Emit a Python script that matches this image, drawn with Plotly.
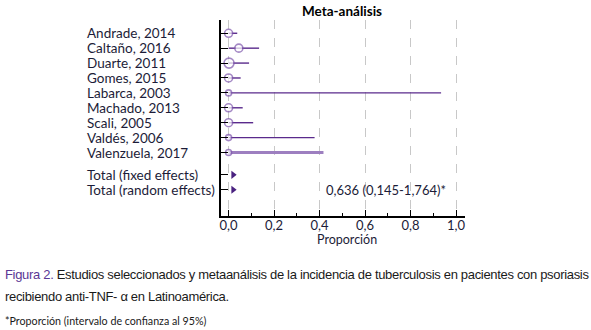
import plotly.graph_objects as go

# ---------------- data ----------------
studies = ["Andrade, 2014", "Caltaño, 2016", "Duarte, 2011", "Gomes, 2015", "Labarca, 2003",
           "Machado, 2013", "Scali, 2005", "Valdés, 2006", "Valenzuela, 2017"]
estimates = [0.0, 0.045, 0.002, 0.0, 0.0, 0.0, 0.0, 0.0, 0.0]
ci_lower = [0.0, 0.0, 0.0, 0.0, 0.0, 0.0, 0.0, 0.0, 0.0]
ci_upper = [0.038, 0.134, 0.09, 0.053, 0.934, 0.062, 0.108, 0.378, 0.417]
study_weights = [3, 3, 5, 3, 1, 3, 3, 1, 1]
pooled_labels = ["Total (fixed effects)", "Total (random effects)"]
pooled_estimates = [0.02, 0.02]
pooled_text = "0,636 (0,145-1,764)*"
x_ticks = [0.0, 0.2, 0.4, 0.6, 0.8, 1.0]

# ---------------- layout helpers ----------------
W, H = 591, 330
L, R, T, B = 221, 465, 20, 216
study_rows = list(range(len(studies)))
pooled_rows = [9.5, 10.5]

def px(xpix):
    return (xpix - L) / (R - L)

def py(ypix):
    return (B - ypix) / (B - T)

fig = go.Figure()

line_dark = "#5a2a8c"
marker_edge = "#7e57ad"

for i, (lo, hi) in enumerate(zip(ci_lower, ci_upper)):
    is_last = i == len(studies) - 1
    fig.add_trace(go.Scatter(
        x=[lo, hi], y=[study_rows[i], study_rows[i]], mode="lines",
        line=dict(color="#9d7fc0" if is_last else line_dark, width=3 if is_last else 1.4),
        hoverinfo="skip", showlegend=False))

sizes = [5 + w for w in study_weights]
fig.add_trace(go.Scatter(
    x=estimates, y=study_rows, mode="markers",
    marker=dict(symbol="circle", size=sizes, color="white",
                line=dict(color=marker_edge, width=1.6)),
    showlegend=False, hoverinfo="skip"))

fig.add_trace(go.Scatter(
    x=pooled_estimates, y=pooled_rows, mode="markers",
    marker=dict(symbol="triangle-right", size=7, color="#4a2280"),
    showlegend=False, hoverinfo="skip"))

fig.update_xaxes(
    range=[(L - 228.6) / 227.5, (R - 228.6) / 227.5],
    tickvals=x_ticks, tickformat=".1f",
    ticks="inside", ticklen=6, tickcolor="black", tickwidth=1,
    minor=dict(dtick=0.1, ticks="inside", ticklen=3, tickcolor="black", showgrid=False),
    showline=True, linecolor="black", linewidth=1.5,
    showgrid=True, gridcolor="#c8c8c8", griddash="dash", gridwidth=1,
    zeroline=False, ticklabelstandoff=-3,
    tickfont=dict(family="Lato, Open Sans", size=13, color="#1c1c38"),
)
fig.update_yaxes(
    range=[12.26, -0.89],
    tickvals=study_rows + pooled_rows, showticklabels=False,
    ticks="inside", ticklen=7, tickcolor="black", tickwidth=1.2,
    showline=True, linecolor="black", linewidth=1.5,
    showgrid=False, zeroline=False,
)

annotations = []
label_font = dict(family="Lato, Open Sans", size=13.5, color="#1c1c38")
for name, r in zip(studies + pooled_labels, study_rows + pooled_rows):
    annotations.append(dict(x=px(85), y=r, xref="paper", yref="y", text=name,
                            showarrow=False, xanchor="left", yanchor="middle", font=label_font))

annotations.append(dict(x=0.42, y=pooled_rows[1], xref="x", yref="y",
                        text=pooled_text, showarrow=False, xanchor="left", yanchor="middle",
                        font=dict(family="Lato, Open Sans", size=13, color="#1c1c38")))

annotations.append(dict(x=px(342), y=py(11), xref="paper", yref="paper", text="<b>Meta-análisis</b>",
                        showarrow=False, xanchor="center", yanchor="middle",
                        font=dict(family="Lato, Open Sans", size=13.5, color="black")))

annotations.append(dict(x=px(347), y=py(240), xref="paper", yref="paper", text="Proporción",
                        showarrow=False, xanchor="center", yanchor="middle",
                        font=dict(family="Lato, Open Sans", size=12.5, color="#1c1c38")))

cap_font = dict(family="Liberation Sans", size=13, color="#1a1a1a")
sp = "letter-spacing:-0.32px"
annotations.append(dict(x=px(3), y=py(274), xref="paper", yref="paper",
                        text=f"<span style='{sp};color:#5b3795'>Figura 2.</span><span style='{sp}'> Estudios seleccionados y metaanálisis de la incidencia de tuberculosis en pacientes con psoriasis</span>",
                        showarrow=False, xanchor="left", yanchor="middle", font=cap_font))
annotations.append(dict(x=px(3), y=py(296), xref="paper", yref="paper",
                        text=f"<span style='{sp}'>recibiendo anti-TNF- α en Latinoamérica.</span>",
                        showarrow=False, xanchor="left", yanchor="middle", font=cap_font))
annotations.append(dict(x=px(3), y=py(320), xref="paper", yref="paper",
                        text="*Proporción (intervalo de confianza al 95%)",
                        showarrow=False, xanchor="left", yanchor="middle",
                        font=dict(family="Lato, Open Sans", size=10.7, color="#1a1a1a")))

fig.update_layout(
    width=W, height=H,
    margin=dict(l=L, r=W - R, t=T, b=H - B, pad=0),
    paper_bgcolor="white", plot_bgcolor="white",
    separators=",.",
    annotations=annotations,
    showlegend=False,
)

fig.write_html("out.html", config={"displayModeBar": False},
               post_script="document.body.style.margin='0';")
